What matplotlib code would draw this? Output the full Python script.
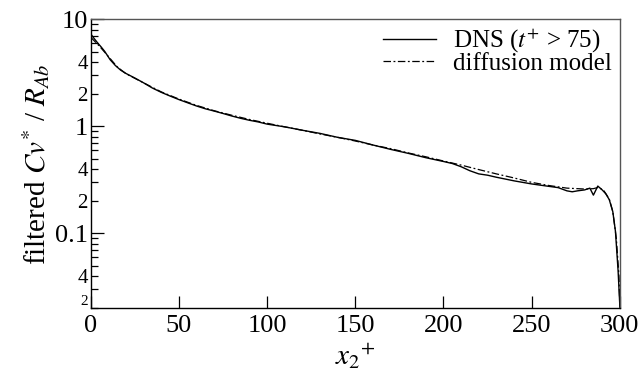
import matplotlib
matplotlib.use("Agg")
import matplotlib.pyplot as plt
from matplotlib.ticker import FixedLocator, FixedFormatter
import numpy as np

plt.rcParams['font.family'] = ['Liberation Serif', 'DejaVu Serif']
plt.rcParams['mathtext.fontset'] = 'stix'

# DNS data
dns_x = [0, 2, 4, 6, 8, 11, 14, 17, 20, 25, 30, 35, 40, 45, 50, 55, 60, 65, 70, 75,
         80, 85, 90, 95, 100, 110, 120, 130, 140, 150, 160, 170, 180, 190, 200, 205,
         210, 215, 220, 225, 230, 240, 250, 260, 265, 270, 273, 276, 280, 283, 285,
         287.5, 290, 292, 294, 296, 297.5, 299, 300]
dns_y = [7.3, 6.6, 6.0, 5.5, 5.0, 4.2, 3.7, 3.35, 3.12, 2.83, 2.55, 2.28, 2.08, 1.92,
         1.78, 1.66, 1.55, 1.46, 1.39, 1.32, 1.25, 1.19, 1.14, 1.10, 1.05, 0.99, 0.92,
         0.86, 0.79, 0.74, 0.67, 0.61, 0.56, 0.51, 0.47, 0.45, 0.42, 0.385, 0.36, 0.35,
         0.335, 0.31, 0.29, 0.275, 0.268, 0.25, 0.245, 0.25, 0.255, 0.265, 0.228, 0.277,
         0.255, 0.235, 0.207, 0.16, 0.105, 0.045, 0.021]

# diffusion model
mod_x = [0, 5, 10, 15, 20, 30, 40, 50, 60, 70, 80, 90, 100, 110, 120, 130, 140, 150,
         160, 170, 180, 190, 200, 210, 220, 230, 240, 250, 260, 270, 280, 285, 288,
         291, 294, 296, 298, 299.5, 300]
mod_y = [6.8, 5.6, 4.5, 3.6, 3.1, 2.55, 2.1, 1.8, 1.57, 1.4, 1.27, 1.16, 1.07, 0.99,
         0.92, 0.85, 0.79, 0.73, 0.67, 0.62, 0.565, 0.52, 0.475, 0.435, 0.395, 0.36,
         0.33, 0.30, 0.28, 0.265, 0.26, 0.262, 0.27, 0.25, 0.21, 0.16, 0.09, 0.04, 0.02]

xticks = [0, 50, 100, 150, 200, 250, 300]
major_y = [0.1, 1, 10]
major_labels = ['0.1', '1', '10']
minor_y = [0.02, 0.03, 0.04, 0.05, 0.06, 0.07, 0.08, 0.09,
           0.2, 0.3, 0.4, 0.5, 0.6, 0.7, 0.8, 0.9,
           2, 3, 4, 5, 6, 7, 8, 9]
minor_labels = ['2', '', '4', '', '', '', '', '',
                '2', '', '4', '', '', '', '', '',
                '2', '', '4', '', '', '', '', '']

fig = plt.figure(figsize=(6.41, 3.80), dpi=100)
ax = fig.add_axes([0.1415, 0.1887, 0.8255, 0.7605])

ax.plot(dns_x, dns_y, color='black', lw=1.0, ls='-', label='DNS ($t^{+}$ > 75)')
ax.plot(mod_x, mod_y, color='black', lw=0.9, ls=(0, (6, 2, 1.5, 2)), label='diffusion model')

ax.set_yscale('log')
ax.set_xlim(0, 300)
ax.set_ylim(0.02, 10)
ax.set_xticks(xticks)
ax.set_xticklabels([str(t) for t in xticks])
ax.yaxis.set_major_locator(FixedLocator(major_y))
ax.yaxis.set_major_formatter(FixedFormatter(major_labels))
ax.yaxis.set_minor_locator(FixedLocator(minor_y))
ax.yaxis.set_minor_formatter(FixedFormatter(minor_labels))

ax.tick_params(axis='both', which='major', direction='in', length=9, width=0.9,
               labelsize=19, pad=2, top=False, right=False)
ax.tick_params(axis='x', which='major', pad=5)
ax.tick_params(axis='y', which='minor', direction='in', length=5, width=0.9,
               labelsize=15, pad=2, right=False)
ax.tick_params(axis='x', which='minor', bottom=False, top=False)

fig.canvas.draw()
for lab in ax.yaxis.get_minorticklabels():
    if abs(lab.get_position()[1] - 0.02) < 1e-6:
        lab.set_fontsize(11)
        lab.set_verticalalignment('bottom')

for s in ['left', 'bottom']:
    ax.spines[s].set_color('black')
    ax.spines[s].set_linewidth(1.0)
for s in ['top', 'right']:
    ax.spines[s].set_color('#555555')
    ax.spines[s].set_linewidth(1.0)

ax.set_xlabel('$x_2{}^{+}$', fontsize=21, labelpad=3)
ax.set_ylabel('filtered $Cv^{*}$ / $R_{Ab}$', fontsize=21, labelpad=2)

leg = ax.legend(loc='upper right', frameon=False, fontsize=18, handlelength=2.1,
                handletextpad=0.7, borderaxespad=0.0, labelspacing=-0.1,
                borderpad=0.3)

fig.savefig('out.png', dpi=100)
